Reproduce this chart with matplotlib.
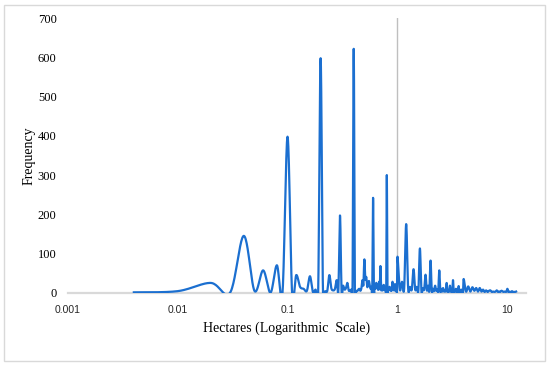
import numpy as np
import matplotlib
matplotlib.use('Agg')
import matplotlib.pyplot as plt
from matplotlib.patches import Rectangle

# area values (ha) and how often they occur
x_low = [0.004, 0.01, 0.02, 0.03, 0.04, 0.05, 0.06, 0.07, 0.08, 0.09]
y_low = [1, 4, 25, 0, 145, 5, 57, 0, 70, 0]

# 0.10 .. 0.99 in steps of 0.01
x_mid = [round(0.10 + 0.01 * i, 2) for i in range(90)]
y_mid = [398, 0, 45, 15, 10, 5, 42, 2, 8, 2,
         598, 3, 4, 5, 45, 12, 6, 10, 32, 6,
         197, 5, 18, 8, 12, 25, 6, 5, 8, 3,
         622, 3, 5, 4, 8, 10, 5, 12, 32, 20,
         85, 35, 40, 15, 20, 30, 18, 10, 15, 8,
         242, 12, 20, 10, 25, 18, 12, 8, 28, 10,
         68, 8, 18, 6, 10, 20, 12, 6, 10, 5,
         300, 8, 12, 6, 10, 15, 8, 5, 12, 6,
         28, 10, 12, 6, 8, 22, 8, 6, 10, 5]

# 1.00 .. 3.95 in steps of 0.05
x_high = [round(1.0 + 0.05 * i, 2) for i in range(60)]
y_high = [92, 8, 28, 10, 175, 12, 15, 8, 60, 8,
          15, 6, 113, 6, 12, 8, 46, 6, 18, 5,
          82, 5, 10, 4, 18, 5, 8, 4, 57, 4,
          10, 3, 12, 3, 6, 4, 25, 3, 6, 3,
          18, 3, 5, 3, 32, 3, 6, 3, 10, 2,
          8, 2, 17, 2, 5, 2, 8, 2, 4, 2]

# 4.0 .. 12.0 in steps of 0.2
x_big = [round(4.0 + 0.2 * i, 1) for i in range(41)]
y_big = [35, 3, 16, 3, 14, 5, 12, 3, 12, 3,
         8, 2, 6, 2, 5, 6, 2, 3, 2, 3,
         6, 2, 3, 2, 5, 4, 2, 3, 2, 3,
         10, 2, 3, 2, 2, 4, 2, 2, 2, 2, 3]

xticks = [0.001, 0.01, 0.1, 1, 10]
xtick_labels = ['0.001', '0.01', '0.1', '1', '10']
yticks = [0, 100, 200, 300, 400, 500, 600, 700]


def smooth(xs, ys, n=24):
    # Excel style smoothed line (Catmull-Rom bezier) in log-x space
    u = np.log10(np.asarray(xs, float))
    v = np.asarray(ys, float)
    P = np.column_stack([u, v])
    P = np.vstack([P[0], P, P[-1]])
    t = np.linspace(0, 1, n, endpoint=False)[:, None]
    out = []
    for i in range(1, len(P) - 2):
        p0, p3 = P[i], P[i + 1]
        c1 = p0 + (P[i + 1] - P[i - 1]) / 6
        c2 = p3 - (P[i + 2] - P[i]) / 6
        seg = ((1 - t) ** 3) * p0 + 3 * ((1 - t) ** 2) * t * c1 + 3 * (1 - t) * t ** 2 * c2 + t ** 3 * p3
        out.append(seg)
    out.append(P[-2][None, :])
    out = np.vstack(out)
    return 10 ** out[:, 0], out[:, 1]


xs = x_low + x_mid + x_high + x_big
ys = y_low + y_mid + y_high + y_big
sx, sy = smooth(xs, ys)

fig = plt.figure(figsize=(5.5, 3.65), dpi=100)
ax = fig.add_axes([0.123, 0.198, 0.833, 0.752])

ax.axhline(0, color='#d9d9d9', lw=1.6, zorder=1, clip_on=False)
ax.plot([1, 1], [0, 700], color='#bfbfbf', lw=1.0, zorder=1)
ax.plot(sx, sy, color='#1b6fd0', lw=1.6, zorder=2, solid_joinstyle='round')

ax.set_xscale('log')
ax.set_xlim(0.001, 14.7)
ax.set_ylim(0, 700)
ax.set_xticks(xticks)
ax.set_xticklabels(xtick_labels, fontsize=7.5, family='Liberation Sans', color='#262626')
ax.xaxis.set_minor_locator(matplotlib.ticker.NullLocator())
ax.set_yticks(yticks)
ax.set_yticklabels([str(v) for v in yticks], fontsize=9, family='Liberation Serif')
ax.tick_params(axis='x', length=0, pad=9)
ax.tick_params(axis='y', length=0, pad=8)
for s in ax.spines.values():
    s.set_visible(False)

fig.text(287 / 550, 1 - 328 / 365, 'Hectares (Logarithmic  Scale)', fontsize=10,
         family='Liberation Serif', ha='center', va='center')
fig.text(29 / 550, 1 - 156 / 365, 'Frequency', fontsize=10, family='Liberation Serif',
         rotation=90, ha='center', va='center')

# light frame round the whole chart
fig.patches.append(Rectangle((4 / 550, 4 / 365), 541 / 550, 356 / 365, transform=fig.transFigure,
                             fill=False, edgecolor='#d9d9d9', lw=1.0))

fig.savefig('out.png', dpi=100)
